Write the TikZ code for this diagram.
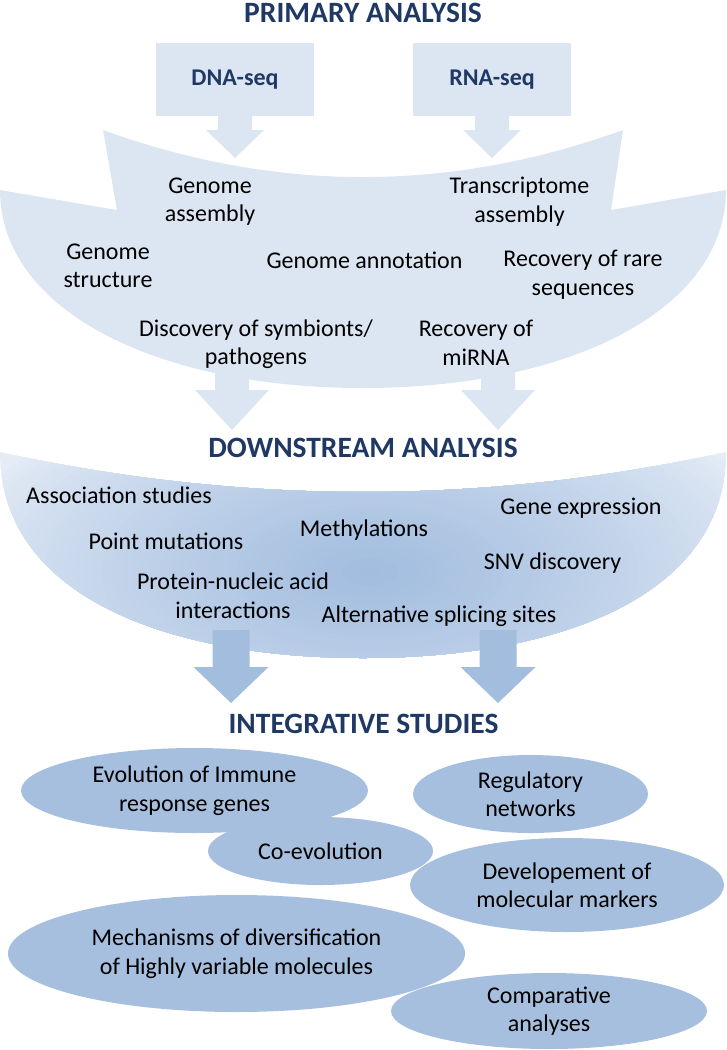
\documentclass[tikz,border=0pt]{standalone}
\usepackage{fontspec}
\setmainfont{Carlito}
\usetikzlibrary{shapes.geometric}
\definecolor{pa}{RGB}{220,230,242}
\definecolor{dsin}{RGB}{162,189,223}
\definecolor{dsout}{RGB}{229,236,246}
\definecolor{arrtwo}{RGB}{163,189,223}
\definecolor{ellc}{RGB}{167,191,222}
\definecolor{navy}{RGB}{31,56,100}
% block arrow: x, top y, shoulder y, tip y, shaft half width, head half width, colour
\newcommand\mybarrow[7]{\fill[#7] (#1-#5,#2) -- (#1+#5,#2) -- (#1+#5,#3) -- (#1+#6,#3) -- (#1,#4) -- (#1-#6,#3) -- (#1-#5,#3) -- cycle;}
\begin{document}
\begin{tikzpicture}[x=1pt,y=-1pt,
  ttl/.style={font=\fontsize{29.5}{34}\selectfont\bfseries, text=navy, inner sep=0pt},
  txt/.style={font=\fontsize{24}{28.5}\selectfont, align=center, inner sep=0pt, text=black},
  pbox/.style={fill=pa, minimum width=158pt, minimum height=73pt, inner sep=0pt,
    font=\fontsize{24}{28}\selectfont\bfseries, text=navy},
  ell/.style={ellipse, fill=ellc, inner sep=0pt, font=\fontsize{24}{28.5}\selectfont, align=center, text=black}]
\useasboundingbox (0,0) rectangle (726,1050);

% ---------- primary analysis ----------
\node[ttl] (tprim) at (363,12.5) {PRIMARY ANALYSIS};
\node[pbox] (dna) at (235,79.5) {DNA-seq};
\node[pbox] (rna) at (492,79.5) {RNA-seq};
\mybarrow{235}{116}{130}{158}{17}{29}{pa}
\mybarrow{492}{116}{130}{158}{17}{29}{pa}
\fill[pa] (103,130) .. controls (276.3,192.7) and (449.7,192.7) .. (623,130)
  -- (611,210) -- (726,190)
  .. controls (726,310) and (570,388) .. (363,388)
  .. controls (156,388) and (0,310) .. (0,190)
  -- (117,210) -- cycle;
\node[txt] (gasm) at (210,201.5) {Genome\\assembly};
\node[txt] (tasm) at (519.5,201.5) {Transcriptome\\assembly};
\node[txt] (gstr) at (108,266) {Genome\\structure};
\node[txt] (gann) at (364.5,260) {Genome annotation};
\node[txt] (rare) at (583,274.5) {Recovery of rare\\sequences};
\node[txt] (symb) at (256,344) {Discovery of symbionts/\\pathogens};
\node[txt] (mirna) at (476,343) {Recovery of\\miRNA};

% ---------- downstream analysis ----------
\mybarrow{232}{370}{390}{430}{17}{37}{pa}
\mybarrow{498}{370}{390}{430}{17}{37}{pa}
\node[ttl] (tdown) at (363,447.5) {DOWNSTREAM ANALYSIS};
\begin{scope}
  \clip (0,452) .. controls (242,505.3) and (484,505.3) .. (726,452)
    .. controls (726,595) and (561,658) .. (363,658)
    .. controls (165,658) and (0,595) .. (0,452) -- cycle;
  \fill[dsout] (0,440) rectangle (726,670);
  \foreach \i in {0,...,44}{
    \pgfmathsetmacro\sc{1-\i/45}
    \pgfmathsetmacro\pc{100*(\i/44)^0.75}
    \fill[dsin!\pc!dsout] (370,572) ellipse [x radius=430*\sc, y radius=205*\sc];
  }
\end{scope}
\node[txt] (assoc) at (119,495) {Association studies};
\node[txt] (gexp) at (581,508) {Gene expression};
\node[txt] (meth) at (364,530) {Methylations};
\node[txt] (pmut) at (166,541) {Point mutations};
\node[txt] (snv) at (552.5,563) {SNV discovery};
\node[txt] (pna) at (233,595.5) {Protein-nucleic acid\\interactions};
\node[txt] (alts) at (439,616.5) {Alternative splicing sites};

% ---------- integrative studies ----------
\mybarrow{231}{630}{667}{703}{18.5}{37.5}{arrtwo}
\mybarrow{498}{630}{667}{703}{18.5}{37.5}{arrtwo}
\node[ttl] (tint) at (363.5,723.5) {INTEGRATIVE STUDIES};
\node[ell, minimum width=347pt, minimum height=85pt] (evo) at (194.5,790.5) {Evolution of Immune\\response genes};
\node[ell, minimum width=225pt, minimum height=68pt] (coevo) at (320.5,851) {Co-evolution};
\node[ell, minimum width=235pt, minimum height=78pt] (reg) at (530.5,794) {Regulatory\\networks};
\node[ell, minimum width=314pt, minimum height=94pt] (dev) at (567,885) {Developement of\\molecular markers};
\node[ell, minimum width=457pt, minimum height=117pt] (mech) at (236.5,953.5) {Mechanisms of diversification\\of Highly variable molecules};
\node[ell, minimum width=316pt, minimum height=76pt] (comp) at (549,1011) {Comparative\\analyses};
\end{tikzpicture}
\end{document}
